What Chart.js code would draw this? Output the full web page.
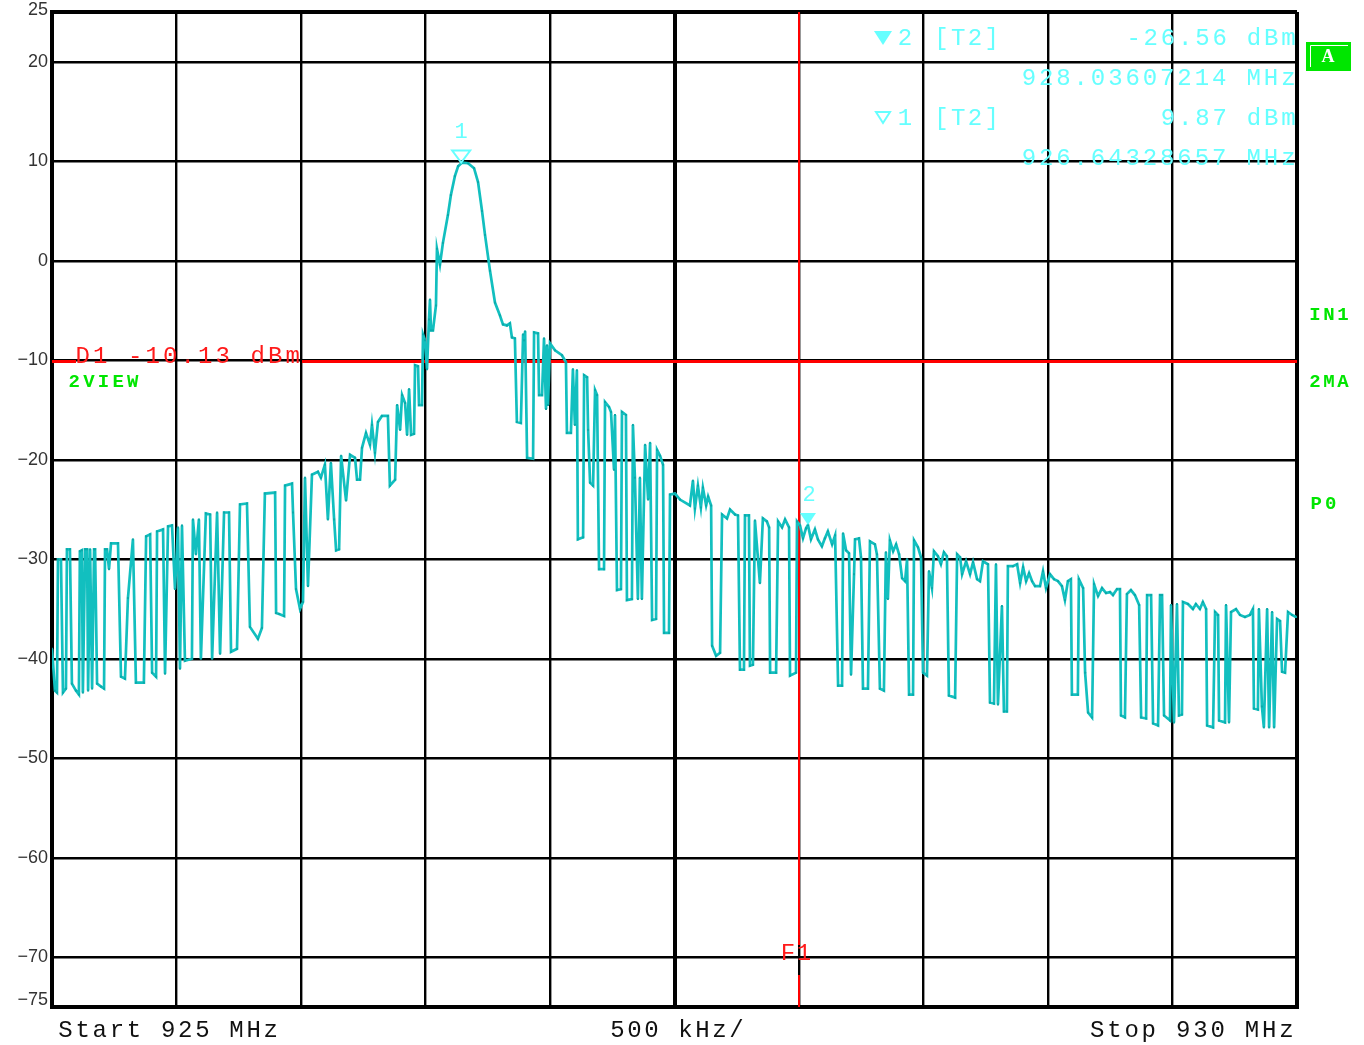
<!DOCTYPE html>
<html>
<head>
<meta charset="utf-8">
<script src="https://cdn.jsdelivr.net/npm/chart.js@4.4.0/dist/chart.umd.min.js"></script>
<style>
html, body { margin: 0; padding: 0; background: #fff; }
canvas { display: block; }
</style>
</head>
<body>
<canvas id="mycanvas" width="1364" height="1045"></canvas>
<script>
// trace values (MHz / dBm)
var freqMHz = [
  925.000, 925.012, 925.020, 925.024, 925.036, 925.044, 925.056, 925.060, 925.072, 925.080,
  925.096, 925.108, 925.112, 925.120, 925.124, 925.133, 925.141, 925.145, 925.153, 925.161,
  925.169, 925.173, 925.181, 925.197, 925.209, 925.213, 925.221, 925.229, 925.237, 925.265,
  925.277, 925.293, 925.305, 925.325, 925.337, 925.369, 925.378, 925.394, 925.402, 925.418,
  925.422, 925.446, 925.454, 925.466, 925.482, 925.494, 925.506, 925.514, 925.522, 925.534,
  925.562, 925.566, 925.578, 925.590, 925.598, 925.618, 925.635, 925.643, 925.663, 925.675,
  925.691, 925.711, 925.719, 925.743, 925.755, 925.783, 925.795, 925.827, 925.843, 925.855,
  925.896, 925.900, 925.912, 925.932, 925.936, 925.964, 925.968, 925.980, 925.996, 926.008,
  926.016, 926.028, 926.044, 926.068, 926.080, 926.096, 926.108, 926.120, 926.133, 926.141,
  926.153, 926.161, 926.181, 926.197, 926.217, 926.225, 926.237, 926.245, 926.261, 926.277,
  926.285, 926.297, 926.309, 926.325, 926.349, 926.357, 926.378, 926.386, 926.398, 926.406,
  926.418, 926.426, 926.434, 926.442, 926.454, 926.458, 926.470, 926.474, 926.486, 926.490,
  926.498, 926.506, 926.514, 926.518, 926.522, 926.530, 926.542, 926.546, 926.558, 926.570,
  926.590, 926.602, 926.618, 926.631, 926.647, 926.671, 926.695, 926.711, 926.727, 926.739,
  926.759, 926.779, 926.799, 926.811, 926.827, 926.839, 926.847, 926.859, 926.867, 926.883,
  926.892, 926.896, 926.900, 926.908, 926.932, 926.936, 926.952, 926.956, 926.968, 926.976,
  926.984, 926.988, 926.992, 927.000, 927.020, 927.048, 927.064, 927.068, 927.084, 927.092,
  927.100, 927.108, 927.112, 927.133, 927.137, 927.149, 927.153, 927.161, 927.173, 927.181,
  927.189, 927.197, 927.217, 927.221, 927.237, 927.245, 927.257, 927.261, 927.269, 927.285,
  927.289, 927.305, 927.309, 927.329, 927.333, 927.341, 927.353, 927.361, 927.369, 927.382,
  927.394, 927.402, 927.410, 927.426, 927.430, 927.442, 927.454, 927.458, 927.478, 927.482,
  927.502, 927.522, 927.562, 927.574, 927.582, 927.594, 927.606, 927.614, 927.627, 927.635,
  927.647, 927.651, 927.667, 927.683, 927.691, 927.711, 927.723, 927.743, 927.755, 927.763,
  927.779, 927.783, 927.799, 927.803, 927.815, 927.823, 927.843, 927.855, 927.871, 927.880,
  927.884, 927.908, 927.916, 927.932, 927.944, 927.960, 927.964, 927.988, 927.992, 928.004,
  928.016, 928.028, 928.036, 928.048, 928.064, 928.076, 928.092, 928.104, 928.116, 928.133,
  928.145, 928.157, 928.173, 928.177, 928.189, 928.201, 928.209, 928.221, 928.225, 928.241,
  928.249, 928.257, 928.277, 928.285, 928.305, 928.313, 928.325, 928.341, 928.349, 928.357,
  928.365, 928.378, 928.390, 928.402, 928.414, 928.426, 928.434, 928.442, 928.458, 928.462,
  928.478, 928.490, 928.498, 928.514, 928.522, 928.534, 928.542, 928.558, 928.570, 928.582,
  928.594, 928.602, 928.627, 928.635, 928.647, 928.655, 928.671, 928.687, 928.699, 928.715,
  928.727, 928.739, 928.759, 928.767, 928.783, 928.791, 928.799, 928.815, 928.823, 928.835,
  928.839, 928.859, 928.876, 928.888, 928.900, 928.912, 928.924, 928.936, 928.948, 928.968,
  928.980, 928.992, 929.008, 929.024, 929.040, 929.056, 929.068, 929.080, 929.092, 929.096,
  929.120, 929.124, 929.141, 929.149, 929.161, 929.177, 929.185, 929.201, 929.217, 929.233,
  929.249, 929.261, 929.277, 929.289, 929.293, 929.309, 929.317, 929.333, 929.349, 929.366,
  929.374, 929.394, 929.398, 929.414, 929.422, 929.442, 929.450, 929.458, 929.466, 929.490,
  929.494, 929.506, 929.518, 929.526, 929.538, 929.542, 929.562, 929.582, 929.594, 929.610,
  929.622, 929.635, 929.639, 929.663, 929.671, 929.683, 929.687, 929.711, 929.715, 929.727,
  929.735, 929.755, 929.771, 929.791, 929.811, 929.823, 929.827, 929.843, 929.847, 929.859,
  929.867, 929.880, 929.888, 929.900, 929.908, 929.920, 929.932, 929.940, 929.952, 929.964,
  929.980, 929.996
];
var levelDbm = [
  -39.0, -43.2, -43.4, -30.0, -30.0, -43.4, -43.0, -29.0, -29.0, -42.5,
  -43.2, -43.6, -29.2, -29.1, -43.4, -29.0, -29.0, -43.2, -29.0, -43.0,
  -29.0, -29.0, -42.5, -42.8, -43.0, -29.0, -29.0, -31.0, -28.4, -28.4,
  -41.8, -42.0, -33.9, -28.0, -42.4, -42.4, -27.7, -27.5, -41.4, -41.8,
  -27.2, -27.0, -41.5, -26.7, -26.6, -33.0, -26.8, -41.0, -26.6, -40.2,
  -40.0, -26.0, -29.5, -26.0, -40.0, -25.4, -25.5, -40.0, -25.3, -39.5,
  -25.3, -25.3, -39.3, -39.0, -24.5, -24.4, -36.8, -38.0, -36.9, -23.4,
  -23.3, -35.4, -35.5, -35.7, -22.6, -22.4, -25.3, -33.0, -35.0, -34.3,
  -21.8, -32.7, -21.5, -21.2, -21.8, -20.5, -26.0, -20.3, -26.0, -29.1,
  -29.0, -19.6, -24.1, -19.5, -19.8, -22.0, -22.0, -18.8, -17.3, -18.5,
  -16.5, -19.3, -16.2, -15.6, -15.6, -22.6, -22.0, -14.5, -17.0, -13.5,
  -14.3, -17.5, -12.9, -17.5, -17.4, -10.5, -10.6, -14.5, -14.5, -7.4,
  -8.0, -10.9, -5.9, -3.9, -7.0, -7.0, -4.5, 1.2, -0.4, 1.8,
  4.6, 6.6, 8.5, 9.5, 9.87, 9.8, 9.3, 7.9, 5.0, 2.6,
  -1.0, -4.2, -5.5, -6.4, -6.5, -6.3, -7.7, -7.8, -16.2, -16.3,
  -7.4, -8.0, -7.1, -19.8, -19.9, -7.2, -7.3, -13.5, -13.5, -7.8,
  -14.9, -8.5, -14.5, -8.3, -9.0, -9.5, -10.2, -17.3, -17.3, -10.9,
  -16.5, -11.0, -28.0, -27.8, -11.5, -11.7, -17.0, -22.3, -22.6, -13.0,
  -13.5, -31.0, -31.0, -14.2, -14.7, -15.2, -21.0, -15.5, -33.1, -33.0,
  -15.2, -15.5, -34.1, -34.0, -16.5, -21.8, -34.0, -21.8, -34.0, -18.5,
  -24.0, -18.3, -36.1, -36.0, -19.0, -19.6, -20.5, -37.4, -37.4, -23.5,
  -23.4, -24.0, -24.6, -22.1, -24.9, -22.6, -24.8, -22.8, -24.6, -23.7,
  -24.6, -38.7, -39.7, -39.4, -25.5, -25.9, -25.0, -25.5, -25.6, -41.1,
  -41.1, -25.6, -25.6, -40.7, -40.6, -26.1, -32.4, -25.9, -26.2, -26.8,
  -41.4, -41.4, -26.2, -26.8, -26.0, -26.8, -41.7, -41.4, -26.2, -26.6,
  -27.9, -26.9, -26.56, -28.0, -27.0, -28.0, -28.7, -27.9, -27.2, -28.5,
  -27.6, -42.7, -42.7, -27.4, -29.1, -29.4, -41.6, -31.5, -28.0, -27.9,
  -29.8, -43.0, -43.0, -28.2, -28.5, -29.5, -43.0, -43.2, -29.3, -34.0,
  -28.1, -29.2, -28.5, -29.5, -31.9, -32.2, -30.0, -43.6, -43.6, -28.1,
  -28.8, -29.8, -41.4, -41.7, -31.2, -32.9, -29.2, -29.7, -30.5, -29.3,
  -29.7, -43.7, -43.9, -29.5, -29.8, -31.5, -30.2, -31.5, -30.3, -32.0,
  -32.2, -30.2, -30.5, -44.4, -44.5, -30.5, -44.6, -34.7, -45.3, -45.3,
  -30.7, -30.7, -30.5, -32.4, -30.8, -32.2, -31.4, -32.2, -32.7, -32.7,
  -31.2, -32.9, -31.5, -32.0, -32.2, -32.7, -34.1, -32.2, -32.0, -43.6,
  -43.6, -32.0, -32.9, -41.4, -45.4, -45.9, -32.5, -33.7, -32.9, -33.4,
  -33.3, -33.6, -33.0, -33.0, -45.7, -45.9, -33.5, -33.1, -33.6, -34.6,
  -45.9, -46.0, -33.6, -33.6, -46.5, -46.7, -33.6, -33.6, -45.7, -46.2,
  -34.6, -46.4, -34.5, -45.7, -45.6, -34.3, -34.5, -35.0, -34.5, -35.0,
  -34.3, -35.0, -46.7, -46.9, -35.3, -35.6, -46.2, -46.4, -34.6, -46.4,
  -35.3, -35.0, -35.6, -35.8, -35.6, -35.0, -45.0, -45.1, -35.0, -44.8,
  -46.9, -35.0, -46.9, -35.3, -46.9, -36.0, -36.2, -41.3, -41.4, -35.3,
  -35.6, -35.8
];

var yTicks = [-75, -70, -60, -50, -40, -30, -20, -10, 0, 10, 20, 25];
var markerFreq = [926.64328657, 928.03607214];
var markerLevel = [9.87, -26.56];
var displayLine = -10.13;
var f1Line = 928.0;

var points = [];
for (var i in freqMHz) {
  points.push({ x: freqMHz[i], y: levelDbm[i] });
}

// draws characters on a fixed pitch, like the analyzer screen font
function spaced(c, s, x, y, adv, right) {
  var x0 = right ? x - s.length * adv : x;
  c.textAlign = 'center';
  for (var i = 0; i < s.length; i++) {
    if (s[i] !== ' ') c.fillText(s[i], x0 + adv * (i + 0.5), y);
  }
}

var overlay = {
  id: 'overlay',
  beforeDatasetsDraw: function(chart) {
    var c = chart.ctx, xs = chart.scales.x, ys = chart.scales.y, a = chart.chartArea;
    c.save();
    c.strokeStyle = '#ff0000';
    c.lineWidth = 3;
    var yl = ys.getPixelForValue(displayLine);
    c.beginPath();
    c.moveTo(a.left, yl); c.lineTo(76, yl);
    c.moveTo(302, yl); c.lineTo(a.right, yl);
    c.stroke();
    c.lineWidth = 2;
    var xf = xs.getPixelForValue(f1Line);
    c.beginPath();
    c.moveTo(xf, a.top); c.lineTo(xf, 945);
    c.moveTo(xf, 975); c.lineTo(xf, a.bottom);
    c.stroke();
    c.strokeStyle = '#000';
    c.lineWidth = 1;
    c.beginPath();
    c.moveTo(xf, 960); c.lineTo(xf, 975);
    c.stroke();
    c.restore();
  },
  afterDraw: function(chart) {
    var c = chart.ctx, xs = chart.scales.x, ys = chart.scales.y, a = chart.chartArea;
    c.save();
    c.textBaseline = 'middle';

    // level labels on the left
    c.font = '18px "Liberation Sans", sans-serif';
    c.fillStyle = '#333';
    c.textAlign = 'right';
    yTicks.forEach(function(v) {
      var y = ys.getPixelForValue(v);
      if (v === 25) y = a.top - 2;
      if (v === -75) y = a.bottom - 7;
      c.fillText(v < 0 ? '\u2212' + Math.abs(v) : String(v), 48, y);
    });

    c.font = '24px "Liberation Mono", monospace';
    c.fillStyle = '#111';
    spaced(c, 'Start 925 MHz', 57, 1031, 17.1);
    spaced(c, '500 kHz/', 609, 1031, 17);
    spaced(c, 'Stop 930 MHz', 1295, 1031, 17.2, true);

    c.fillStyle = '#ff1a1a';
    spaced(c, 'D1 ' + displayLine.toFixed(2) + ' dBm', 74, 357, 17.5);
    spaced(c, 'F1', 780, 954, 16);

    // marker readout
    c.fillStyle = '#66ffff';
    c.strokeStyle = '#66ffff';
    spaced(c, '2', 897, 39, 16);
    spaced(c, '[T2]', 933, 39, 16.8);
    spaced(c, markerLevel[1].toFixed(2) + ' dBm', 1297, 39, 17.2, true);
    spaced(c, markerFreq[1].toFixed(8) + ' MHz', 1297, 79, 17.3, true);
    spaced(c, '1', 897, 119, 16);
    spaced(c, '[T2]', 933, 119, 16.8);
    spaced(c, markerLevel[0].toFixed(2) + ' dBm', 1297, 119, 17.2, true);
    spaced(c, markerFreq[0].toFixed(8) + ' MHz', 1297, 159, 17.3, true);

    c.beginPath();
    c.moveTo(874, 31); c.lineTo(892, 31); c.lineTo(883, 45); c.closePath();
    c.fill();
    c.lineWidth = 2;
    c.beginPath();
    c.moveTo(876, 112); c.lineTo(890, 112); c.lineTo(883, 123); c.closePath();
    c.stroke();

    // markers on the trace
    var p1x = xs.getPixelForValue(markerFreq[0]), p1y = ys.getPixelForValue(markerLevel[0]);
    c.beginPath();
    c.moveTo(p1x - 9, p1y - 12); c.lineTo(p1x + 9, p1y - 12); c.lineTo(p1x, p1y); c.closePath();
    c.stroke();
    c.font = '22px "Liberation Mono", monospace';
    c.textAlign = 'center';
    c.fillText('1', p1x, p1y - 30);
    var p2x = xs.getPixelForValue(markerFreq[1]), p2y = ys.getPixelForValue(markerLevel[1]);
    c.beginPath();
    c.moveTo(p2x - 8, p2y - 12); c.lineTo(p2x + 8, p2y - 12); c.lineTo(p2x, p2y); c.closePath();
    c.fill();
    c.fillText('2', p2x + 1, p2y - 30);

    // green status labels
    c.fillStyle = '#00e600';
    c.font = 'bold 19px "Liberation Mono", monospace';
    spaced(c, '2VIEW', 67, 382, 14.6);
    spaced(c, 'IN1', 1308, 315, 14);
    spaced(c, '2MA', 1308, 382, 14);
    spaced(c, 'P0', 1309, 504, 14.5);

    c.fillRect(1306, 42, 45, 29);
    c.strokeStyle = '#ffffff';
    c.lineWidth = 1;
    c.beginPath();
    c.moveTo(1310.5, 67); c.lineTo(1310.5, 45.5); c.lineTo(1348, 45.5);
    c.stroke();
    c.fillStyle = '#ffffff';
    c.font = 'bold 18px "Liberation Serif", serif';
    c.textAlign = 'center';
    c.fillText('A', 1328, 57);
    c.restore();
  }
};

var edgeWidth = function(ctx, lo, hi, mid) {
  var v = ctx.tick ? ctx.tick.value : null;
  if (v === lo || v === hi) return 4;
  if (v === mid) return 4;
  return 2.4;
};

var ctx = document.getElementById('mycanvas');
var chart = new Chart(ctx, {
  type: 'line',
  data: {
    datasets: [{
      data: points,
      borderColor: '#12bfbf',
      borderWidth: 2.7,
      pointRadius: 1.4,
      pointStyle: 'rect',
      pointBackgroundColor: '#0aa9a9',
      pointBorderWidth: 0,
      tension: 0,
      fill: false
    }]
  },
  options: {
    responsive: false,
    animation: false,
    devicePixelRatio: 1,
    layout: { padding: { top: 12, right: 67, left: 0, bottom: 0 } },
    plugins: { legend: { display: false }, tooltip: { enabled: false } },
    scales: {
      x: {
        type: 'linear',
        min: 925,
        max: 930,
        ticks: { display: false, stepSize: 0.5 },
        grid: {
          color: '#000',
          drawTicks: false,
          lineWidth: function(c) { return edgeWidth(c, 925, 930, 927.5); }
        },
        border: { color: '#000', width: 4 },
        afterFit: function(s) { s.height = 38; }
      },
      y: {
        min: -75,
        max: 25,
        afterBuildTicks: function(s) {
          s.ticks = yTicks.map(function(v) { return { value: v }; });
        },
        ticks: { display: false },
        grid: {
          color: '#000',
          drawTicks: false,
          lineWidth: function(c) { return edgeWidth(c, -75, 25, null); }
        },
        border: { color: '#000', width: 4 },
        afterFit: function(s) { s.width = 52; }
      }
    }
  },
  plugins: [overlay]
});
</script>
</body>
</html>
